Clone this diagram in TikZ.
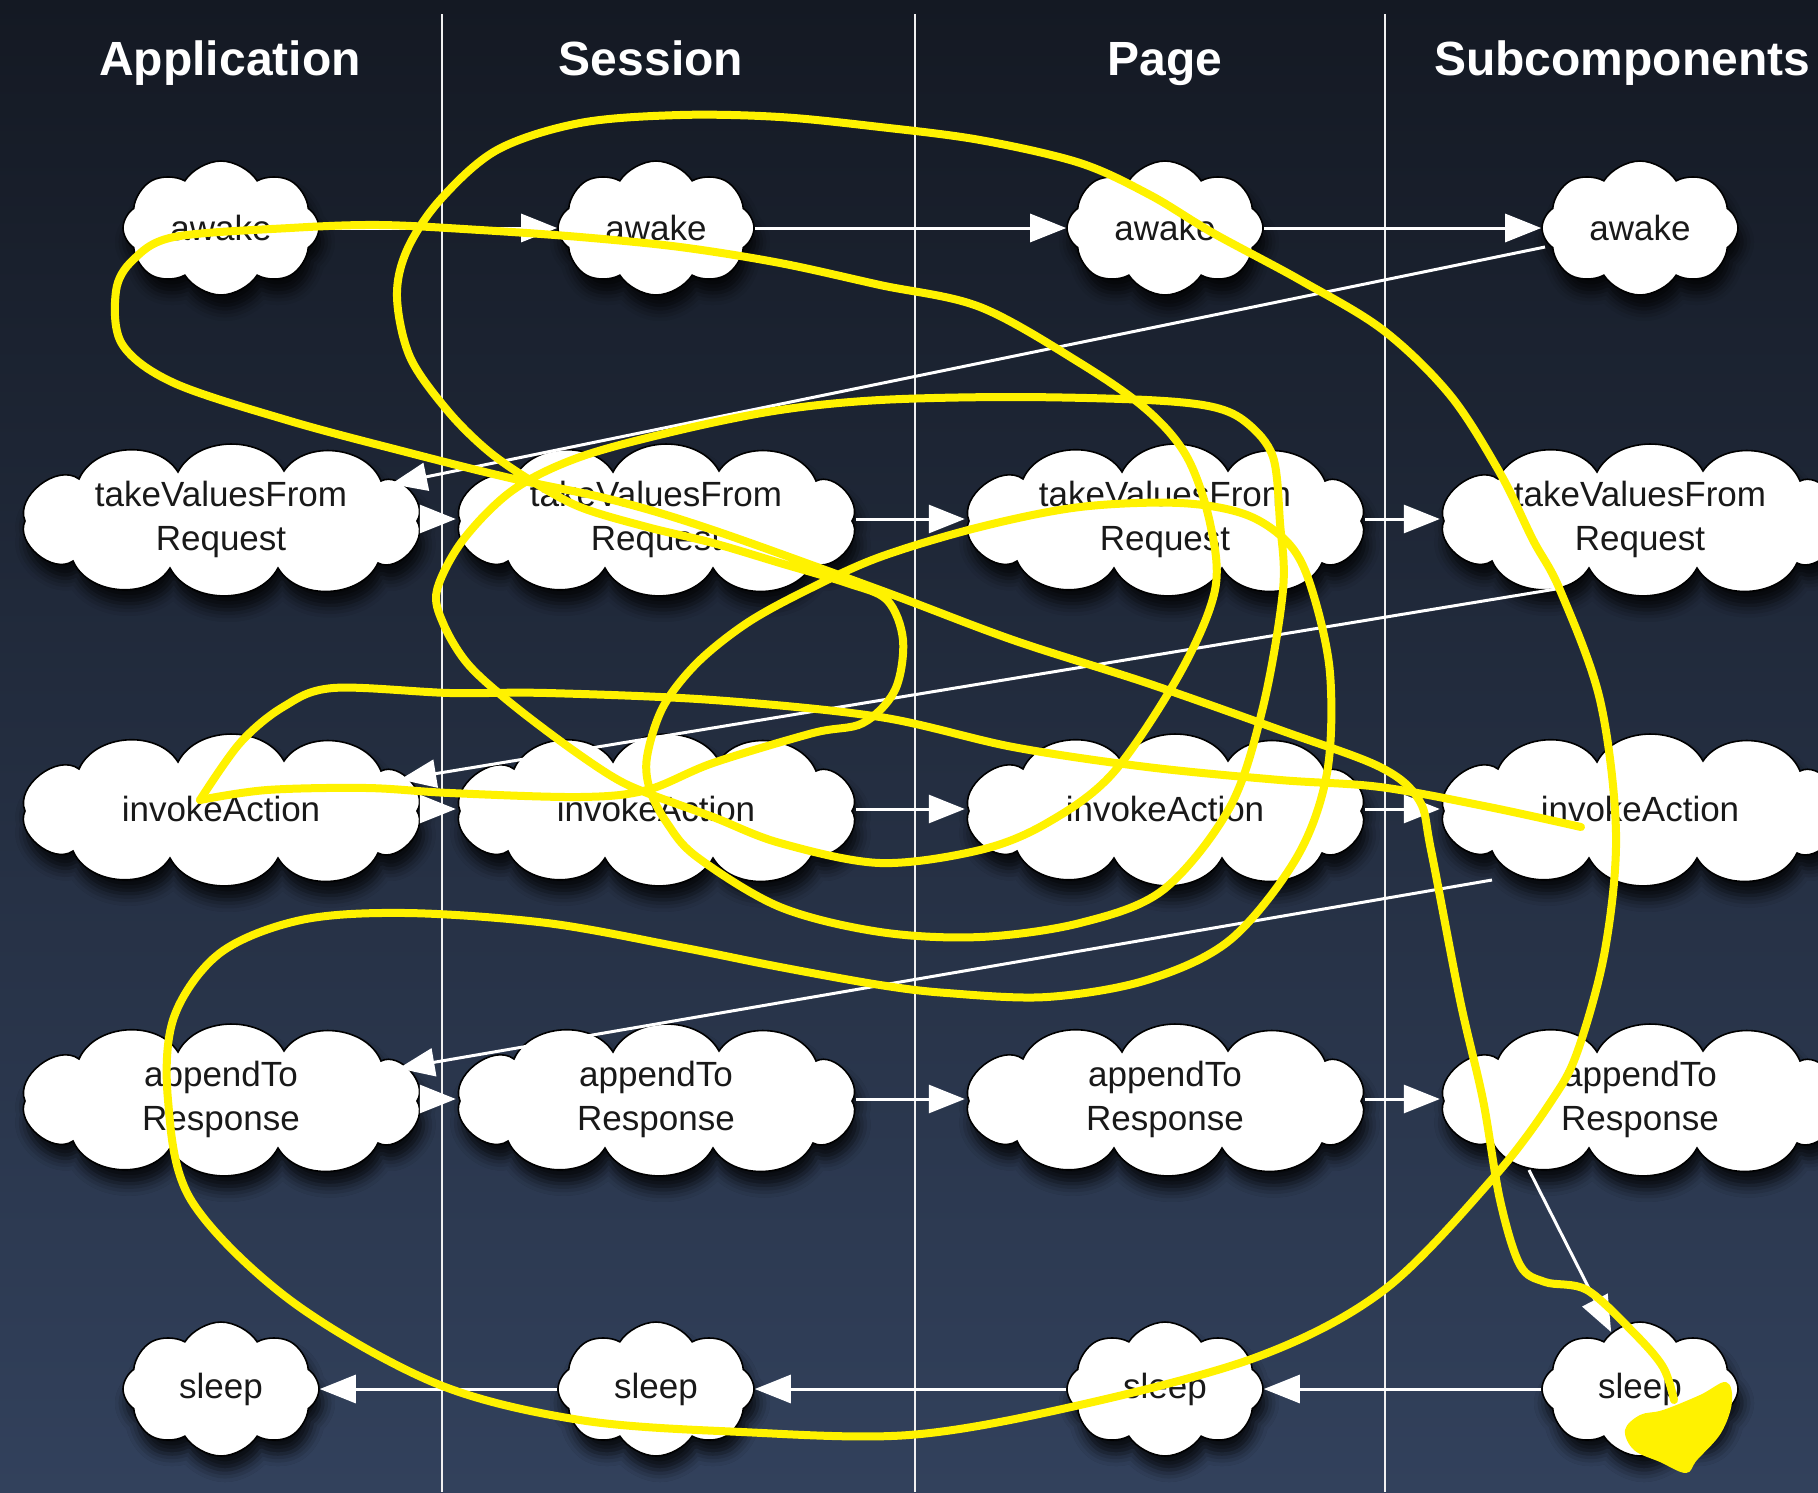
\documentclass[tikz,border=0pt]{standalone}
\usepackage{fontspec}
\setmainfont{Liberation Sans}
\usetikzlibrary{shapes.symbols,shapes.geometric,arrows.meta,calc,shadows.blur}
\definecolor{bgtop}{RGB}{20,25,35}
\definecolor{bgbot}{RGB}{50,65,92}
\definecolor{scrib}{RGB}{255,242,0}
\definecolor{ink}{RGB}{25,25,25}
\tikzset{
 cloudshadow/.style={blur shadow={shadow xshift=4pt, shadow yshift=-14pt, shadow blur radius=12pt, shadow opacity=80}},
 cloudtext/.style={text=ink, inner sep=0pt, font=\fontsize{35}{44}\selectfont, align=center},
 smallcloud/.style={cloud, draw=black, line width=1.6pt, fill=white, cloudtext, cloudshadow, cloud ignores aspect,
   cloud puffs=8, cloud puff arc=115, minimum width=196pt, minimum height=134pt},
 widenode/.style={ellipse, cloudtext, minimum width=400pt, minimum height=132pt},
 wideoutline/.style={draw=black, line width=1.6pt, fill=white, cloudshadow},
 wcloud/.pic={
   \path[wideoutline] (-196,2) to[bend left=75] (-142,-40) to[bend left=62] (-43,-47)
     to[bend left=62] (63,-48) to[bend left=62] (160,-38) to[bend left=75] (196,2)
     to[bend left=75] (157,44) to[bend left=62] (57,49) to[bend left=62] (-51,49)
     to[bend left=62] (-148,42) to[bend left=75] (-196,2) -- cycle;
 },
 head/.style={text=white, font=\bfseries\fontsize{48}{56}\selectfont, anchor=base},
 arr/.style={draw=white, line width=3pt, -{Triangle[length=36pt,width=28pt]}},
 divider/.style={draw=white!88!gray, line width=2.5pt},
 scribble/.style={draw=scrib, line width=8pt, line cap=round, line join=round},
}
\begin{document}
\begin{tikzpicture}[x=1pt,y=-1pt]
\useasboundingbox (0,0) rectangle (1818,1492);
\clip (0,0) rectangle (1818,1492);
\fill[top color=bgtop, bottom color=bgbot] (0,0) rectangle (1818,1492);
% column dividers
\draw[divider] (442,14) -- (442,1492);
\draw[divider] (915,14) -- (915,1492);
\draw[divider] (1385,14) -- (1385,1492);
% headers
\node[head] (hA) at (230,75) {Application};
\node[head] (hS) at (651,75) {Session};
\node[head] (hP) at (1165,75) {Page};
\node[head] (hC) at (1622,75) {Subcomponents};
% clouds
\foreach \c/\x in {A/221,S/656,P/1165,C/1640}{
  \node[smallcloud] (\c1) at (\x,228) {awake};
  \pic at (\x,519) {wcloud};
  \node[widenode] (\c2) at (\x,519) {takeValuesFrom\\Request};
  \pic at (\x,809) {wcloud};
  \node[widenode] (\c3) at (\x,809) {invokeAction};
  \pic at (\x,1099) {wcloud};
  \node[widenode] (\c4) at (\x,1099) {appendTo\\Response};
  \node[smallcloud] (\c5) at (\x,1389) {sleep};
}
% forward arrows
\foreach \r in {1,2,3,4}{
  \draw[arr] (A\r) -- (S\r);
  \draw[arr] (S\r) -- (P\r);
  \draw[arr] (P\r) -- (C\r);
}
% sleep row arrows
\draw[arr] (C5) -- (P5);
\draw[arr] (P5) -- (S5);
\draw[arr] (S5) -- (A5);
% return arrows
\coordinate (ret1) at ($(C1.center)+(-95,19)$);
\coordinate (ret2) at ($(C2.center)+(-84,70)$);
\coordinate (ret3) at ($(C3.center)+(-148,71)$);
\coordinate (ret4) at ($(C4.center)+(-111,71)$);
\draw[arr] (ret1) -- (A2);
\draw[arr] (ret2) -- (A3);
\draw[arr] (ret3) -- (A4);
\draw[arr] (ret4) -- (C5);
% yellow scribble
\draw[scribble] plot[smooth, tension=0.55] coordinates {
(1581,827) (1489,807) (1380,787) (1280,780) (1147,767) (1013,747) (880,717) (713,700)
(547,693) (450,693) (333,688) (283,707) (240,743) (200,800)};
\draw[scribble] plot[smooth, tension=0.55] coordinates {
(200,800) (267,790) (367,788) (450,793) (580,797) (647,790) (713,763) (813,733) (863,723)
(895,690) (903,640) (887,600) (847,583) (780,563) (713,543) (647,527) (580,507) (530,480)
(487,450) (447,410) (410,357) (397,297) (407,250) (440,200) (497,150) (580,123) (680,115)
(780,117) (880,127) (980,140) (1080,163) (1150,195) (1213,233) (1300,280) (1383,330)
(1450,395) (1500,473) (1533,540) (1560,590) (1600,700) (1616,833) (1605,950) (1578,1050)
(1552,1100) (1494,1177) (1384,1290) (1257,1357) (1071,1407) (909,1435) (742,1432) (580,1420)
(435,1383) (290,1300) (191,1200) (168,1100) (174,1017) (220,953) (301,920) (406,913)
(547,923) (680,947) (780,967) (880,985) (947,993) (1047,997) (1147,980) (1230,940)
(1297,857) (1327,773) (1330,673) (1312,590) (1290,545) (1247,515) (1180,503) (1080,507)
(980,527) (880,557) (807,590) (747,623) (697,663) (663,707) (647,757) (650,790) (667,823)
(697,857) (780,907) (880,932) (980,937) (1080,923) (1163,890) (1230,807) (1263,707)
(1283,590) (1280,523) (1273,457) (1247,423) (1213,407) (1147,400) (1013,397) (880,400)
(780,410) (680,430) (580,457) (513,490) (463,540) (437,590) (443,623) (467,663) (507,700)
(563,743) (613,777) (647,793) (713,817) (780,843) (880,863) (980,850) (1047,823) (1113,773)
(1180,673) (1215,590) (1210,523) (1187,457) (1147,410) (1080,363) (980,307) (880,285)
(780,263) (680,247) (580,237) (480,230) (380,225) (290,228) (174,237) (133,260) (116,291)
(122,344) (174,383) (290,421) (406,452) (510,478) (613,500) (713,530) (880,590) (1013,640)
(1147,683) (1280,730) (1380,767) (1419,800) (1431,850) (1460,1000) (1483,1100) (1500,1200)
(1520,1265) (1545,1282) (1587,1290) (1634,1333) (1663,1367) (1674,1400)};
\fill[scrib] plot[smooth cycle, tension=0.6] coordinates {
(1726,1382) (1732,1402) (1721,1433) (1697,1460) (1686,1473) (1660,1462) (1634,1450)
(1625,1430) (1640,1415) (1663,1410) (1700,1395)};
\end{tikzpicture}
\end{document}
